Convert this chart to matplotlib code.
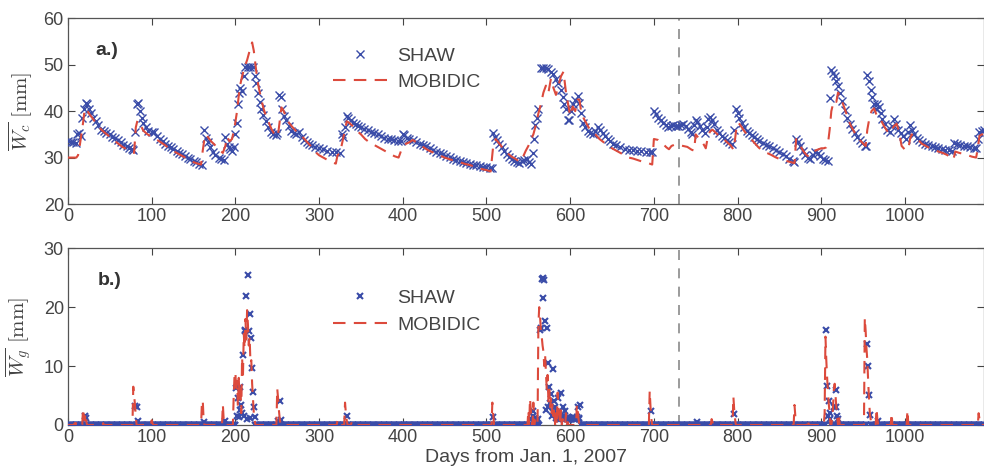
import numpy as np
import matplotlib
matplotlib.use('Agg')
import matplotlib.pyplot as plt

plt.rcParams['font.family'] = ['Liberation Sans', 'DejaVu Sans']
plt.rcParams['mathtext.fontset'] = 'cm'

# ---- panel a: canopy storage W_c [mm] ----
shaw_c_days = [0, 3, 6, 9, 11, 13, 15, 17, 19, 21, 23, 25, 27, 30, 33, 36, 40, 43, 46, 50, 53, 56, 60, 63, 66, 70, 73, 76, 78,
               80, 82, 84, 86, 88, 90, 93, 96, 100, 103, 106, 110, 113, 116, 120, 123, 126, 130, 133, 136, 140, 143, 146, 150, 153, 156, 160,
               163, 165, 167, 170, 173, 176, 180, 183, 186, 188, 190, 192, 194, 196, 198, 200, 202, 203, 204, 206, 208, 210, 212, 215, 218, 221,
               223, 225, 227, 229, 231, 233, 236, 239, 242, 245, 248, 250, 252, 254, 256, 258, 261, 264, 267, 270, 273, 276, 279, 282, 285, 288,
               291, 295, 300, 305, 310, 315, 320, 325, 327, 329, 331, 333, 335, 338, 341, 344, 347, 350, 354, 358, 362, 366, 370, 374, 378, 382,
               386, 390, 394, 398, 400, 402, 405, 408, 412, 416, 420, 424, 428, 432, 436, 440, 444, 448, 452, 456, 460, 464, 468, 472, 476, 480,
               484, 488, 492, 496, 500, 504, 507, 508, 510, 512, 515, 518, 521, 524, 527, 530, 533, 536, 539, 542, 545, 548, 551, 553, 555, 557,
               558, 560, 562, 565, 568, 571, 574, 577, 580, 583, 586, 589, 591, 593, 595, 597, 599, 601, 603, 606, 609, 611, 613, 615, 618, 621,
               624, 627, 630, 633, 636, 639, 642, 645, 648, 651, 655, 660, 665, 670, 675, 680, 685, 690, 695, 698, 700, 702, 705, 708, 711, 714,
               717, 720, 723, 726, 729, 732, 735, 738, 741, 744, 746, 748, 750, 752, 755, 758, 761, 763, 765, 767, 769, 772, 775, 778, 781, 784,
               787, 790, 793, 796, 798, 800, 802, 805, 808, 811, 814, 817, 820, 823, 826, 830, 834, 838, 842, 846, 850, 854, 858, 862, 866, 868,
               870, 872, 875, 878, 881, 884, 887, 890, 893, 896, 899, 902, 905, 908, 910, 912, 914, 916, 918, 920, 922, 925, 928, 931, 934, 937,
               940, 943, 946, 949, 952, 954, 955, 957, 959, 961, 963, 965, 967, 969, 971, 973, 976, 979, 982, 985, 987, 989, 992, 995, 998, 1001,
               1004, 1006, 1008, 1011, 1014, 1017, 1020, 1024, 1028, 1032, 1036, 1040, 1044, 1048, 1052, 1056, 1059, 1062, 1066, 1070, 1074, 1078,
               1082, 1085, 1087, 1089, 1092, 1095]
shaw_c = [33.5, 33.4, 33.3, 33.2, 35.0, 35.3, 34.6, 38.5, 40.5, 41.8, 41.5, 40.5, 39.5, 38.5, 37.8, 37.0, 36.0, 35.8, 35.3, 35.0, 34.5, 34.2, 33.8, 33.3, 32.8, 32.5, 32.0, 31.8, 31.7,
          35.5, 41.5, 41.8, 40.0, 38.5, 37.5, 36.5, 35.8, 35.5, 35.6, 34.7, 34.0, 33.5, 33.0, 32.6, 32.2, 31.8, 31.5, 31.0, 30.7, 30.3, 30.0, 29.6, 29.3, 29.0, 28.7, 28.5,
          36.0, 34.3, 33.3, 32.2, 31.3, 30.5, 30.0, 29.8, 29.5, 34.5, 33.0, 32.3, 31.8, 31.5, 32.2, 35.0, 37.5, 41.5, 44.0, 45.0, 44.3, 47.5, 49.5, 49.5, 49.5, 49.5,
          47.5, 46.0, 44.0, 42.0, 40.5, 39.2, 37.8, 36.5, 35.5, 35.0, 34.8, 35.2, 43.5, 43.0, 40.5, 39.0, 38.0, 36.8, 35.8, 35.2, 35.0, 35.5, 34.5, 33.7, 33.3, 33.0,
          32.8, 32.3, 32.0, 31.8, 31.5, 31.3, 31.2, 31.0, 35.0, 34.5, 36.5, 39.0, 38.5, 38.0, 37.5, 37.2, 36.8, 36.5, 36.2, 35.9, 35.6, 35.2, 35.0, 34.6, 34.3, 34.0,
          33.9, 33.8, 33.6, 33.5, 35.0, 34.8, 34.2, 34.0, 33.7, 33.3, 33.0, 32.7, 32.4, 32.0, 31.6, 31.2, 31.0, 30.7, 30.4, 30.1, 29.8, 29.5, 29.3, 29.1, 28.9, 28.7,
          28.5, 28.3, 28.1, 28.0, 27.9, 27.8, 27.7, 35.3, 34.5, 33.8, 33.0, 32.2, 31.5, 30.8, 30.2, 29.8, 29.3, 29.0, 28.8, 29.2, 29.4, 29.6, 29.0, 28.7, 31.0, 34.0,
          37.0, 38.5, 40.5, 49.3, 49.3, 49.2, 49.0, 48.5, 48.0, 47.0, 46.0, 44.5, 43.0, 41.5, 40.5, 38.2, 38.0, 40.0, 41.5, 42.5, 43.3, 41.8, 39.5, 37.5, 36.5, 35.8,
          35.3, 35.0, 35.8, 36.5, 36.0, 35.3, 34.6, 34.0, 33.5, 33.0, 32.7, 32.2, 31.9, 31.7, 31.6, 31.5, 31.4, 31.3, 31.3, 31.3, 40.0, 39.3, 38.6, 38.0, 37.5, 37.0,
          36.6, 36.8, 37.0, 36.7, 36.8, 37.0, 37.2, 36.7, 36.2, 35.6, 35.0, 37.0, 38.2, 37.6, 36.8, 35.9, 35.2, 36.5, 38.3, 38.8, 38.0, 37.2, 36.0, 35.3, 34.7, 34.2,
          33.8, 33.4, 33.0, 36.0, 40.5, 39.5, 38.5, 37.5, 36.5, 35.8, 35.3, 34.8, 34.5, 34.0, 33.6, 33.1, 32.8, 32.5, 32.1, 31.7, 31.3, 30.8, 30.3, 29.8, 29.3, 29.0,
          34.0, 33.3, 32.6, 31.5, 30.6, 30.0, 29.8, 30.5, 31.2, 31.0, 30.3, 29.8, 29.5, 29.3, 42.8, 48.9, 48.3, 47.5, 46.4, 45.4, 44.0, 42.2, 40.3, 38.6, 37.3, 36.2,
          35.4, 34.5, 33.8, 33.1, 32.6, 32.4, 47.8, 46.5, 44.6, 43.0, 41.5, 40.4, 41.5, 41.0, 39.5, 38.3, 37.2, 36.0, 35.5, 36.8, 38.3, 37.2, 36.0, 35.3, 34.6, 34.0,
          35.5, 37.0, 36.0, 35.0, 34.2, 33.7, 33.3, 33.0, 32.7, 32.5, 32.2, 32.0, 31.8, 31.7, 31.6, 31.5, 33.2, 33.0, 32.8, 32.6, 32.4, 32.2,
          32.1, 32.0, 34.0, 35.5, 35.8, 36.0]

mob_c_days = [0, 10, 12, 14, 16, 18, 20, 22, 25, 30, 35, 40, 45, 50, 55, 60, 65, 70, 75, 79, 81, 83, 86, 90, 95, 100, 105, 110, 115,
              120, 125, 130, 135, 140, 145, 150, 155, 159, 161, 163, 165, 168, 171, 175, 180, 185, 188, 190, 193, 196, 199, 202, 205, 208,
              211, 214, 217, 220, 222, 224, 226, 228, 231, 234, 237, 240, 243, 246, 249, 251, 253, 255, 257, 260, 264, 268, 272, 276, 280,
              285, 290, 295, 300, 305, 310, 315, 320, 322, 325, 328, 331, 333, 336, 340, 345, 350, 355, 360, 365, 370, 375, 380, 385, 390,
              395, 398, 400, 404, 408, 412, 416, 420, 425, 430, 435, 440, 445, 450, 455, 460, 465, 470, 475, 480, 485, 490, 495, 500, 505,
              508, 511, 514, 518, 522, 526, 530, 534, 538, 541, 544, 547, 550, 553, 556, 559, 562, 565, 568, 571, 574, 577, 580, 583, 586,
              589, 592, 595, 598, 600, 603, 606, 609, 611, 613, 616, 619, 622, 626, 630, 635, 640, 645, 650, 655, 660, 665, 670, 675, 680,
              685, 690, 695, 698, 700, 705, 710, 715, 718, 721, 725, 730, 735, 740, 745, 748, 750, 753, 756, 759, 762, 765, 768, 770, 773,
              776, 780, 784, 788, 792, 795, 797, 799, 801, 804, 808, 812, 816, 820, 825, 830, 835, 840, 845, 850, 855, 860, 864, 868, 870,
              873, 876, 879, 882, 885, 888, 891, 894, 897, 900, 903, 906, 908, 910, 912, 915, 918, 920, 923, 926, 929, 932, 935, 938, 941,
              944, 947, 950, 953, 955, 957, 960, 963, 966, 969, 972, 975, 978, 981, 984, 987, 990, 993, 996, 1000, 1004, 1006, 1008, 1011,
              1015, 1020, 1025, 1030, 1035, 1040, 1045, 1050, 1055, 1058, 1060, 1065, 1070, 1075, 1080, 1085, 1087, 1089, 1092, 1095]
mob_c = [30.0, 30.0, 30.5, 32.5, 35.0, 37.5, 40.5, 40.5, 39.5, 38.3, 37.0, 36.0, 35.2, 34.5, 33.7, 33.0, 32.3, 31.8, 31.2, 31.0, 36.5, 38.0, 37.3, 35.8, 35.0, 34.5, 34.0, 33.4, 32.8,
         32.1, 31.5, 31.0, 30.5, 30.0, 29.5, 29.0, 28.7, 28.5, 31.5, 34.0, 35.0, 34.2, 33.5, 32.8, 31.8, 31.0, 32.5, 34.5, 33.5, 34.0, 36.5, 40.0, 45.0, 47.5,
         49.5, 51.0, 53.0, 54.8, 53.0, 50.0, 47.0, 45.0, 42.5, 40.3, 38.8, 37.5, 36.2, 35.2, 34.5, 35.0, 38.0, 40.8, 40.3, 39.0, 37.5, 36.6, 35.8, 35.0, 34.5,
         33.5, 32.5, 31.3, 30.5, 30.0, 29.5, 29.0, 28.7, 30.5, 31.0, 33.5, 36.0, 37.8, 37.5, 36.8, 35.8, 35.0, 34.0, 33.3, 32.8, 32.3, 31.8, 31.3, 30.8, 30.3,
         30.0, 31.5, 32.3, 33.0, 33.3, 33.8, 33.3, 32.8, 32.2, 31.6, 31.2, 30.8, 30.4, 30.0, 29.7, 29.4, 29.1, 28.9, 28.6, 28.4, 28.1, 27.8, 27.5, 27.3, 27.0,
         32.5, 34.0, 33.3, 32.4, 31.5, 30.8, 30.2, 29.8, 29.3, 29.2, 30.3, 31.5, 32.5, 33.8, 35.0, 37.0, 39.5, 41.5, 44.0, 45.5, 44.0, 47.0, 45.0, 43.5, 45.5,
         47.5, 48.5, 44.0, 41.0, 39.0, 41.0, 40.0, 42.5, 42.5, 40.0, 38.5, 37.5, 36.5, 35.5, 35.0, 34.0, 33.3, 32.5, 32.0, 31.5, 31.0, 30.5, 30.0, 29.8, 29.5,
         29.2, 29.0, 28.7, 28.5, 34.0, 33.8, 33.1, 32.2, 31.8, 32.5, 32.8, 32.7, 32.5, 32.3, 31.7, 31.5, 35.0, 34.3, 33.6, 33.0, 32.0, 35.0, 35.8, 36.0, 35.5,
         35.0, 34.6, 33.9, 33.2, 32.6, 31.7, 34.0, 37.0, 37.5, 36.8, 35.7, 34.8, 34.0, 33.2, 32.2, 31.4, 31.0, 30.6, 30.1, 29.7, 29.4, 29.2, 29.0, 28.8, 34.0,
         33.0, 32.2, 31.3, 30.6, 30.2, 30.8, 31.3, 31.6, 31.8, 32.0, 32.0, 32.2, 33.0, 36.0, 40.0, 42.3, 42.0, 44.0, 43.2, 41.5, 40.0, 38.3, 37.0, 36.0, 35.0,
         34.2, 33.6, 33.0, 32.5, 36.0, 38.0, 40.0, 40.6, 39.2, 38.8, 37.8, 36.8, 35.9, 35.2, 36.0, 36.8, 37.3, 35.5, 32.5, 31.7, 31.8, 34.0, 35.0, 34.6,
         34.0, 33.0, 32.5, 32.0, 31.6, 31.3, 31.0, 30.6, 30.0, 29.6, 31.3, 31.0, 30.8, 30.5, 30.2, 30.0, 32.0, 34.7, 35.0, 35.0]

# ---- panel b: ground storage W_g [mm], zero except on these days ----
shaw_g_days = [20, 22, 80, 82, 84, 163, 188,
               201, 202, 203, 204, 205, 206, 207, 208, 209, 210, 211, 212, 213, 214, 215, 216, 217, 218, 219, 220, 221, 222, 223,
               251, 253, 254, 333, 508,
               553, 555, 556, 557, 558, 560, 562, 564, 565, 566, 567, 568, 569, 570, 571, 572, 573, 574, 575, 576, 577, 578, 579, 580,
               581, 582, 583, 584, 585, 586, 587, 588, 589, 590, 591, 592, 593, 594, 595, 596, 597, 598, 599, 600, 601, 602, 603, 604,
               605, 606, 607, 608, 609, 610, 611, 612,
               697, 751, 796, 906, 907, 908, 909, 910, 911, 915, 917, 918, 919, 920, 955, 956, 957, 958, 968]
shaw_g = [1.5, 1.2, 3.3, 3.0, 0.7, 0.5, 0.6,
          6.2, 1.5, 4.5, 1.4, 6.5, 2.5, 3.4, 2.0, 11.9, 1.5, 16.1, 16.0, 21.9, 1.0, 25.5, 16.0, 18.9, 1.2, 14.7, 9.6, 5.6, 3.1, 1.4,
          0.6, 4.1, 0.8, 1.5, 1.4,
          1.0, 2.3, 1.5, 0.8, 1.2, 0.8, 1.0, 16.1, 16.5, 24.8, 24.9, 21.6, 24.6, 17.7, 2.5, 16.5, 3.0, 10.6, 6.5, 3.8, 5.2, 1.5, 2.2, 9.5,
          4.1, 3.0, 1.2, 2.0, 1.0, 4.5, 1.8, 1.1, 5.5, 1.2, 3.0, 1.5, 1.0, 2.3, 1.2, 1.0, 1.3, 0.9, 1.1, 1.2, 1.0, 1.1, 1.3, 1.0,
          1.2, 1.0, 1.1, 1.4, 3.1, 1.2, 1.0, 3.4,
          2.3, 0.5, 1.8, 16.2, 6.7, 1.5, 4.0, 2.0, 1.0, 3.0, 5.9, 3.0, 1.5, 1.0, 13.7, 10.0, 5.1, 1.7, 0.7]

mob_g_days = [8, 10, 18, 19, 20, 21, 22, 42, 78, 79, 80, 81, 100, 101, 160, 161, 162, 185, 186,
              198, 199, 200, 201, 202, 203, 204, 205, 206, 207, 208, 209, 210, 211, 212, 213, 214, 215, 216, 217, 218, 219, 220, 221, 222, 223,
              250, 251, 252, 253, 322, 331, 332, 333, 339, 507, 508,
              550, 552, 553, 554, 556, 558, 562, 563, 564, 565, 566, 567, 568, 569, 570, 571, 572, 573, 574, 575, 576, 577, 578, 579, 580,
              581, 583, 585, 586, 587, 589, 591, 595, 597, 608, 609, 610, 695, 696, 697, 769, 770, 795, 796, 797, 868, 869, 884,
              904, 905, 906, 907, 908, 909, 910, 913, 914, 915, 916, 917, 918, 919, 921, 952, 953, 954, 955, 956, 957, 958, 959,
              966, 967, 984, 1003, 1088, 1089]
mob_g = [0.3, 0.5, 2.8, 1.5, 0.8, 2.0, 0.5, 0.3, 6.5, 5.0, 3.5, 1.5, 0.8, 0.3, 3.8, 4.2, 1.0, 3.5, 1.0,
         5.0, 8.5, 9.0, 5.5, 7.5, 3.0, 8.0, 4.5, 7.0, 2.0, 11.5, 8.0, 15.5, 13.0, 18.0, 14.5, 19.5, 17.0, 13.5, 15.0, 10.5, 11.0, 7.0, 4.5, 2.0, 0.8,
         6.2, 4.5, 2.5, 1.0, 0.8, 3.8, 2.0, 0.8, 0.5, 3.8, 2.0,
         2.5, 4.5, 2.5, 1.0, 3.8, 0.8, 17.0, 20.0, 18.5, 16.0, 15.0, 13.5, 12.5, 10.0, 12.0, 9.0, 6.0, 8.5, 4.0, 6.0, 3.0, 4.5, 2.0, 3.8, 1.5,
         3.0, 2.0, 5.5, 3.0, 1.5, 2.5, 1.0, 2.0, 0.5, 3.5, 2.5, 1.0, 5.8, 3.0, 1.0, 1.0, 0.5, 4.8, 2.5, 1.0, 3.4, 1.5, 1.0,
         2.0, 15.0, 11.0, 8.0, 5.5, 3.5, 2.0, 1.0, 3.0, 6.0, 7.0, 5.0, 3.0, 1.5, 1.8, 18.2, 16.0, 13.0, 11.0, 7.5, 4.5, 2.0, 1.0,
         2.8, 1.0, 2.0, 2.5, 2.0, 1.0]

n_days = 1096
split_day = 730

BLUE = '#3a4ca8'
RED = '#dc4a3c'
GREY = '#444444'


def style_axes(ax, ylim, yticks):
    ax.set_xlim(0, 1095)
    ax.set_ylim(*ylim)
    ax.set_xticks(range(0, 1001, 100))
    ax.set_yticks(yticks)
    ax.tick_params(direction='in', top=True, right=True, length=5, width=0.8,
                   labelsize=13, colors=GREY, pad=3)
    for sp in ax.spines.values():
        sp.set_color('#555555')
        sp.set_linewidth(0.9)
    ax.axvline(split_day, color='#8a8a8a', linestyle=(0, (6, 5)), linewidth=1.2, zorder=1)
    ax.yaxis.set_label_coords(-0.037, 0.5)


def main():
    fig = plt.figure(figsize=(9.84, 4.75), dpi=100)
    ax1 = fig.add_axes([0.0691, 0.5705, 0.9314, 0.391])
    ax2 = fig.add_axes([0.0691, 0.1053, 0.9314, 0.372])

    # panel a
    ax1.plot(shaw_c_days, shaw_c, linestyle='none', marker='x', markersize=5.5,
             markeredgewidth=1.0, color=BLUE, label='SHAW', zorder=3)
    ax1.plot(mob_c_days, mob_c, linestyle=(0, (6, 4)), linewidth=1.5,
             color=RED, label='MOBIDIC', zorder=4)
    style_axes(ax1, (20, 60), range(20, 61, 10))
    ax1.set_ylabel(r'$\overline{W_c}\ [\mathrm{mm}]$', fontsize=15, color=GREY)
    ax1.text(0.03, 0.825, 'a.)', transform=ax1.transAxes, fontsize=14,
             fontweight='bold', color='#333333', va='center')
    ax1.legend(loc='upper left', bbox_to_anchor=(0.27, 0.94), frameon=False,
               fontsize=14, handlelength=2.8, labelspacing=0.45, handletextpad=0.5,
               labelcolor=GREY)

    # panel b: daily series, zero on days not listed
    days = np.arange(n_days)
    g_shaw = np.zeros(n_days)
    g_shaw[shaw_g_days] = shaw_g
    g_mob = np.zeros(n_days)
    g_mob[mob_g_days] = mob_g

    ax2.plot(days, g_shaw, linestyle='none', marker='x', markersize=5,
             markeredgewidth=1.5, color=BLUE, label='SHAW', zorder=3)
    ax2.plot(days, g_mob, linestyle=(0, (6, 4)), linewidth=1.5,
             color=RED, label='MOBIDIC', zorder=4)
    style_axes(ax2, (0, 30), range(0, 31, 10))
    ax2.set_ylabel(r'$\overline{W_g}\ [\mathrm{mm}]$', fontsize=15, color=GREY)
    ax2.text(0.032, 0.82, 'b.)', transform=ax2.transAxes, fontsize=14,
             fontweight='bold', color='#333333', va='center')
    ax2.legend(loc='upper left', bbox_to_anchor=(0.27, 0.865), frameon=False,
               fontsize=14, handlelength=2.8, labelspacing=0.45, handletextpad=0.5,
               labelcolor=GREY)
    ax2.set_xlabel('Days from Jan. 1, 2007', fontsize=14, color=GREY, labelpad=2)

    fig.savefig('out.png', dpi=100)


if __name__ == '__main__':
    main()
